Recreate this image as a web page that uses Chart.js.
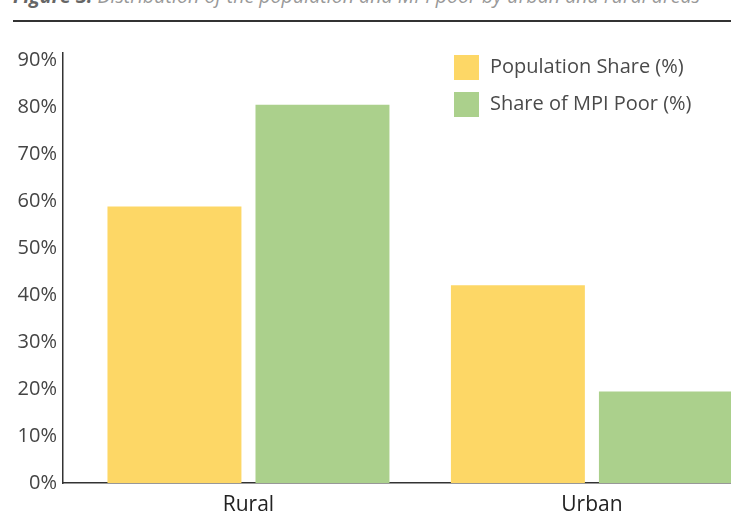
<!DOCTYPE html>
<html>
<head>
<meta charset="utf-8">
<script src="https://cdn.jsdelivr.net/npm/chart.js@4"></script>
<style>
  html, body { margin: 0; padding: 0; background: #fff; overflow: hidden; }
  #wrap { position: relative; width: 731px; height: 521px; }
  #titulo {
    position: absolute; left: 13px; top: -14px; white-space: nowrap;
    font: italic 19.6px "Open Sans", sans-serif; line-height: 20px; color: #999;
  }
  #titulo b { color: #666; }
  #linea { position: absolute; left: 13px; right: 0; top: 20px; border-top: 2px solid #333; }
  canvas { position: absolute; left: 0; top: 0; }
</style>
</head>
<body>
<div id="wrap">
  <div id="titulo"><b>Figure 3:</b> Distribution of the population and MPI poor by urban and rural areas</div>
  <div id="linea"></div>
  <canvas id="chart" width="731" height="521"></canvas>
</div>
<script>
// datos
const categorias = ["Rural", "Urban"];
const series = ["Population Share (%)", "Share of MPI Poor (%)"];
const poblacion = [58.9, 42.1];
const pobresMPI = [80.6, 19.5];
const ticksY = [0, 10, 20, 30, 40, 50, 60, 70, 80, 90];
const colores = ["#FDD766", "#ABD08C"];

// leyenda dibujada a mano dentro del area del grafico
const leyenda = {
  id: "leyenda",
  afterDraw(chart) {
    const ctx = chart.ctx;
    ctx.save();
    ctx.font = "20px 'Open Sans', sans-serif";
    ctx.textBaseline = "middle";
    chart.data.datasets.forEach((ds, i) => {
      const y = 55 + i * 37;
      ctx.fillStyle = ds.backgroundColor;
      ctx.fillRect(454, y, 25, 25);
      ctx.fillStyle = "#4a4a4a";
      ctx.fillText(ds.label, 490, y + 12.5);
    });
    ctx.restore();
  }
};

document.addEventListener("DOMContentLoaded", function () {
  const ctx = document.getElementById("chart").getContext("2d");

  const chart = new Chart(ctx, {
    type: "bar",
    data: {
      datasets: [
        {
          label: series[0],
          data: poblacion.map((v, i) => ({ x: i, y: v })),
          backgroundColor: colores[0],
        },
        {
          label: series[1],
          data: pobresMPI.map((v, i) => ({ x: i, y: v })),
          backgroundColor: colores[1],
        },
      ],
    },
    options: {
      responsive: false,
      animation: false,
      devicePixelRatio: 1,
      layout: { padding: { top: 53, left: 0, right: 0, bottom: 0 } },
      categoryPercentage: 0.862,
      barPercentage: 0.905,
      plugins: { legend: { display: false }, tooltip: { enabled: false } },
      scales: {
        x: {
          type: "linear",
          offset: false,
          min: -0.54,
          max: 1.405,
          grid: { display: false, drawTicks: false },
          border: { display: true, color: "#333", width: 1.5 },
          afterBuildTicks: (s) => { s.ticks = categorias.map((c, i) => ({ value: i })); },
          afterFit: (s) => { s.height = 38; },
          ticks: {
            padding: 9,
            color: "#222",
            font: { family: "'Open Sans', sans-serif", size: 21 },
            callback: (v) => categorias[v],
          },
        },
        y: {
          min: 0,
          max: 91.6,
          grid: { display: false, drawTicks: false },
          border: { display: true, color: "#333", width: 1.5 },
          afterBuildTicks: (s) => { s.ticks = ticksY.map((v) => ({ value: v })); },
          afterFit: (s) => { s.width = 63; },
          ticks: {
            padding: 6,
            color: "#444",
            font: { family: "'Open Sans', sans-serif", size: 20 },
            callback: (v) => v + "%",
          },
        },
      },
    },
    plugins: [leyenda],
  });
});
</script>
</body>
</html>
